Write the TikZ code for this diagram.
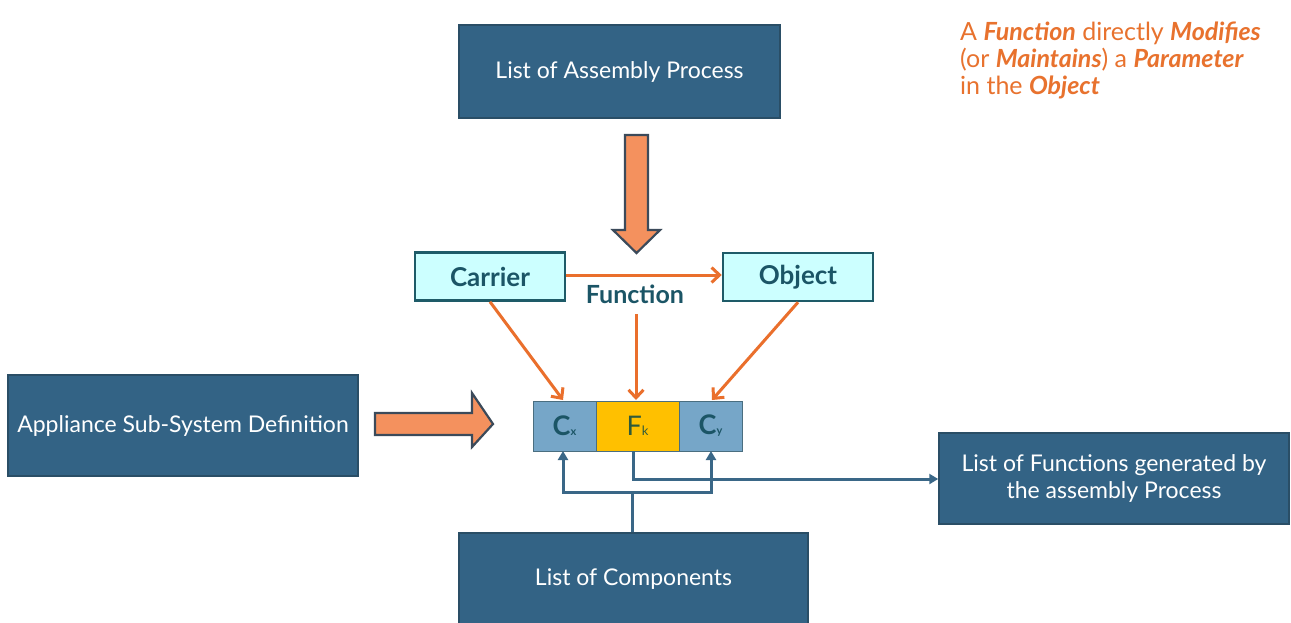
\documentclass[tikz,border=0pt]{standalone}
\usepackage{fontspec}
\setmainfont{Lato}
\usetikzlibrary{arrows.meta}
\definecolor{darkbox}{HTML}{336385}
\definecolor{darkedge}{HTML}{2A4E66}
\definecolor{fatfill}{HTML}{F4915E}
\definecolor{fatedge}{HTML}{3B4A5A}
\definecolor{orangeline}{HTML}{EA6F2C}
\definecolor{lightcyan}{HTML}{CCFFFF}
\definecolor{cyanedge}{HTML}{1E5B68}
\definecolor{tealtext}{HTML}{1B5566}
\definecolor{cellblue}{HTML}{76A6C8}
\definecolor{cellgold}{HTML}{FFC000}
\definecolor{celledge}{HTML}{4A6E80}
\definecolor{linkblue}{HTML}{3A6787}
\definecolor{noteorange}{HTML}{E8722E}
\definecolor{fktext}{HTML}{2F5A3A}
\tikzset{
  darkrect/.style={draw=darkedge, line width=1.5pt, fill=darkbox, text=white, inner sep=0pt, font=\fontsize{23}{27}\selectfont, align=center},
  lightrect/.style={draw=cyanedge, line width=2.5pt, fill=lightcyan, text=tealtext, inner sep=0pt, font=\fontsize{26}{30}\selectfont\bfseries},
  cellrect/.style={draw=celledge, line width=0.8pt, inner sep=0pt, minimum height=50pt, text=tealtext, font=\fontsize{27}{30}\selectfont},
  fatarrow/.style={fill=fatfill, draw=fatedge, line width=2.2pt, line join=miter},
  orangearrow/.style={draw=orangeline, line width=3pt, -{Straight Barb[length=8pt,width=15pt,line width=3pt]}},
  bluelink/.style={draw=linkblue, line width=3pt},
  bluearrow/.style={bluelink, -{Triangle[length=9pt,width=10pt]}}
}
\begin{document}
\begin{tikzpicture}[x=1pt,y=-1pt]
\useasboundingbox (0,0) rectangle (1291,622);
\fill[white] (0,0) rectangle (1291,622);

% dark boxes
\node[darkrect, minimum width=321pt, minimum height=93pt] (assembly) at (619.5,71.5) {List of Assembly Process};
\node[darkrect, minimum width=350pt, minimum height=101pt] (appliance) at (183,425.5) {Appliance Sub-System Definition};
\node[darkrect, minimum width=350pt, minimum height=91pt] (funclist) at (1114,478.5) {List of Functions generated by\\the assembly Process};
\node[darkrect, minimum width=349pt, minimum height=92pt] (components) at (633.5,579) {List of Components};

% fat arrows
\draw[fatarrow] (625,135) -- (648,135) -- (648,230) -- (660,230) -- (636.5,253) -- (613,230) -- (625,230) -- cycle;
\draw[fatarrow] (375,413) -- (472,413) -- (472,393) -- (493,424) -- (472,447) -- (472,435) -- (375,435) -- cycle;

% carrier / object
\node[lightrect, minimum width=150pt, minimum height=48pt] (carrier) at (490,276.5) {Carrier};
\node[lightrect, minimum width=150pt, minimum height=48pt] (object) at (798,277) {Object};
\node[text=tealtext, font=\fontsize{25}{30}\selectfont\bfseries] (function) at (635,294) {Function};

% cells
\node[cellrect, fill=cellblue, minimum width=63pt] (cx) at (564.5,426) {\textbf{C}{\fontsize{11}{12}\selectfont\bfseries x}};
\node[cellrect, fill=cellgold, minimum width=83pt] (fk) at (637.5,426) {\textcolor{fktext}{F{\fontsize{13}{14}\selectfont k}}};
\node[cellrect, fill=cellblue, minimum width=63pt] (cy) at (710.5,426) {\textbf{C}{\fontsize{11}{12}\selectfont\bfseries y}};

% orange arrows
\draw[orangearrow] (carrier.east |- 0,275) -- (object.west |- 0,275);
\draw[orangearrow] (carrier.south) -- (563,400);
\draw[orangearrow] (636,314) -- (636,400);
\draw[orangearrow] (object.south) -- (712,400);

% blue links
\coordinate (split) at (632,492);
\coordinate (leftturn) at (563,492);
\coordinate (rightturn) at (711,492);
\coordinate (fkturn) at (633,479);
\draw[bluelink] (components.north -| split) -- (split);
\draw[bluearrow] (split) -- (leftturn) -- (563,451);
\draw[bluearrow] (split) -- (rightturn) -- (711,451);
\draw[bluearrow] (633,451) -- (fkturn) -- (funclist.west |- fkturn);

% note
\node[anchor=north west, text=noteorange, align=left, font=\fontsize{25}{27}\selectfont, inner sep=0pt] (note) at (960,22)
{A \textbf{\itshape Function} directly \textbf{\itshape Modifies}\\(or \textbf{\itshape Maintains}) a \textbf{\itshape Parameter}\\in the \textbf{\itshape Object}};
\end{tikzpicture}
\end{document}
